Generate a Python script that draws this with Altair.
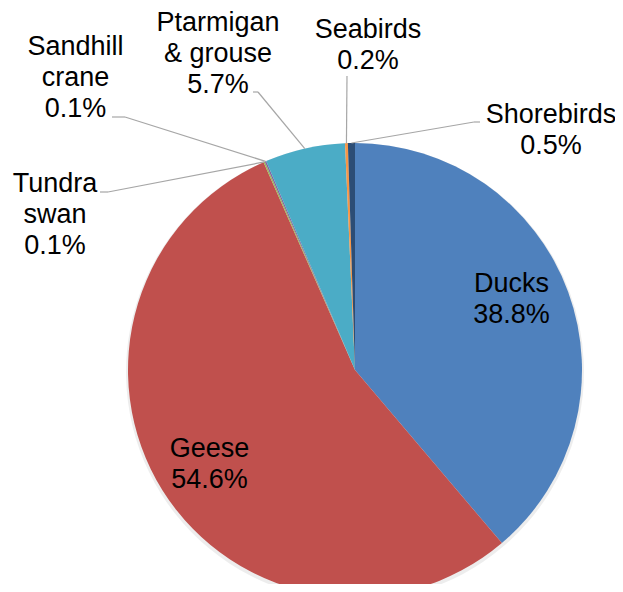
import altair as alt
import pandas as pd

# ---- data ----
categories = ["Ducks", "Geese", "Tundra swan", "Sandhill crane",
              "Ptarmigan & grouse", "Seabirds", "Shorebirds"]
display = ["Ducks", "Geese", "Tundra\nswan", "Sandhill\ncrane",
           "Ptarmigan\n& grouse", "Seabirds", "Shorebirds"]
shares = [38.8, 54.6, 0.1, 0.1, 5.7, 0.2, 0.5]
colors = ["#4F81BD", "#C0504D", "#9BBB59", "#8064A2", "#4BACC6", "#F79646", "#2C4D75"]

# ---- layout (pixels in view) ----
W, H = 607, 576
CX, CY, R = 347, 362, 227
label_x = [503.5, 201.5, 47, 67.5, 210, 360, 543]
label_y = [284, 449, 184, 47, 23, 30, 115]
# leader stub: start (a) at text end, elbow (b); None = no leader
stub_ax = [None, None, 92, 104, 245, 339, 472]
stub_ay = [None, None, 184, 109, 84, 68, 114]
stub_bx = [None, None, 100, 117, 250, 339, 466]
stub_by = [None, None, 184, 109, 84, 68, 114]

pie = pd.DataFrame({
    "category": categories,
    "value": shares,
    "order": list(range(len(categories))),
})
pie["text"] = [d + "\n" + f"{v:.1f}%" for d, v in zip(display, shares)]

layout = pd.DataFrame({
    "category": categories,
    "tx": label_x, "ty": label_y,
    "ax": stub_ax, "ay": stub_ay, "bx": stub_bx, "by": stub_by,
})
lead = layout.dropna().reset_index(drop=True)

color_scale = alt.Scale(domain=categories, range=colors)

base = alt.Chart(pie)

shadow = base.mark_arc(outerRadius=R + 2, opacity=0.07, color="#000000").encode(
    theta=alt.Theta("value:Q", stack=True),
    order=alt.Order("order:Q"),
    x=alt.value(CX), y=alt.value(CY + 2),
)

arcs = base.mark_arc(outerRadius=R, stroke=None).encode(
    theta=alt.Theta("value:Q", stack=True),
    order=alt.Order("order:Q"),
    color=alt.Color("category:N", scale=color_scale, legend=None),
    x=alt.value(CX), y=alt.value(CY),
)

diag = base.transform_window(
    cum="sum(value)", sort=[alt.SortField("order")], frame=[None, 0]
).transform_joinaggregate(
    total="sum(value)"
).transform_lookup(
    lookup="category",
    from_=alt.LookupData(lead, "category", ["bx", "by"]),
).transform_filter(
    "isValid(datum.bx)"
).transform_calculate(
    ang="2*PI*(datum.cum - datum.value/2)/datum.total",
).transform_calculate(
    px=f"{CX} + {R}*sin(datum.ang)",
    py=f"{CY} - {R}*cos(datum.ang)",
).mark_rule(color="#A6A6A6", strokeWidth=1.2).encode(
    x=alt.X("bx:Q", scale=None), y=alt.Y("by:Q", scale=None),
    x2="px:Q", y2="py:Q",
)

stubs = alt.Chart(lead).mark_rule(color="#A6A6A6", strokeWidth=1.2).encode(
    x=alt.X("ax:Q", scale=None), y=alt.Y("ay:Q", scale=None),
    x2="bx:Q", y2="by:Q",
)

texts = base.transform_lookup(
    lookup="category",
    from_=alt.LookupData(layout, "category", ["tx", "ty"]),
).mark_text(
    font="Liberation Sans", fontSize=27, lineBreak="\n", lineHeight=31,
    align="center", baseline="alphabetic", color="#000000",
).encode(
    x=alt.X("tx:Q", scale=None), y=alt.Y("ty:Q", scale=None),
    text="text:N",
)

chart = alt.layer(shadow, arcs, diag, stubs, texts).properties(
    width=W, height=H,
    autosize=alt.AutoSizeParams(type="none"),
    padding=0,
    background="white",
).configure_view(stroke=None)

chart.save("out.html", embed_options={"renderer": "svg", "actions": False})
